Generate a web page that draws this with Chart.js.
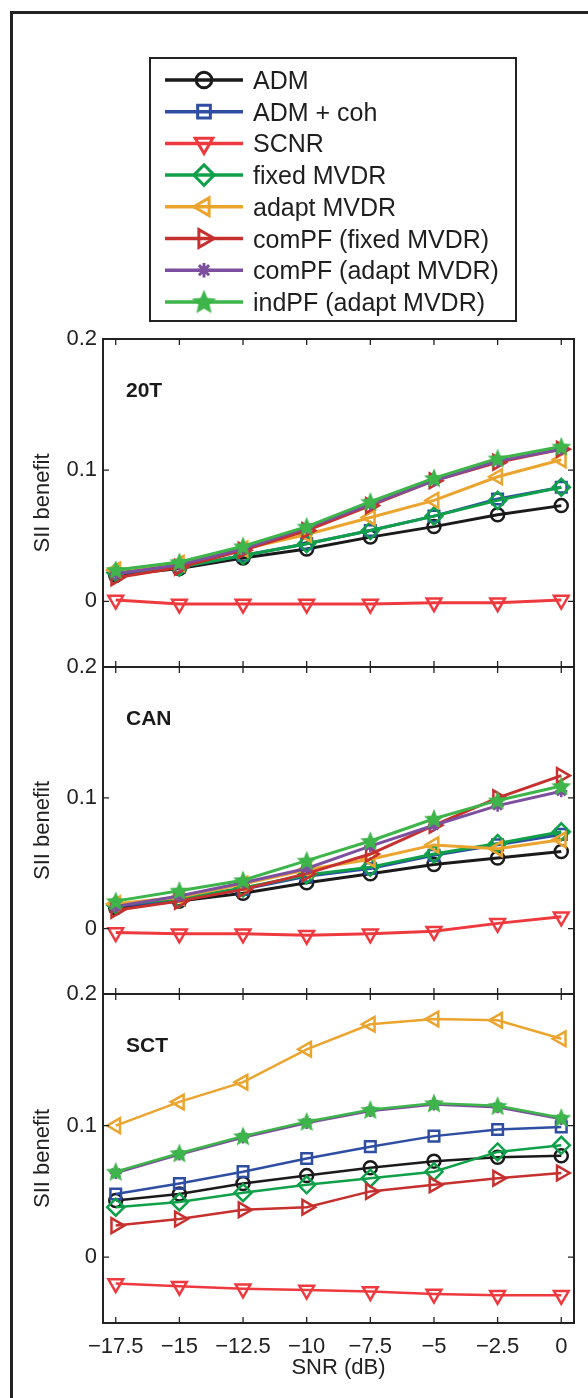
<!DOCTYPE html>
<html>
<head>
<meta charset="utf-8">
<script src="https://cdn.jsdelivr.net/npm/chart.js@4.4.1/dist/chart.umd.min.js"></script>
<style>
  body { margin: 0; background: #fff; }
  #page { position: relative; width: 588px; height: 1398px; overflow: hidden; font-family: "Liberation Sans", Arial, sans-serif; color: #222; }
  #frame { position: absolute; left: 10px; top: 11px; width: 600px; height: 1420px; border-left: 3px solid #222; border-top: 3px solid #222; }
  canvas.panel { position: absolute; left: 0; }
  #legendBox { position: absolute; left: 149px; top: 57px; width: 368px; height: 265px; box-sizing: border-box; border: 2px solid #222; background: #fff; }
  #legendCanvas { position: absolute; left: 149px; top: 57px; }
  .lg { position: absolute; left: 253px; height: 30px; line-height: 30px; font-size: 25px; white-space: nowrap; color: #1e1e1e; }
</style>
</head>
<body>
<div id="page">
  <div id="frame"></div>
  <div id="legendBox"></div>
  <canvas id="legendCanvas" width="368" height="265"></canvas>
  <canvas class="panel" id="p1" width="588" height="368" style="top:319px"></canvas>
  <canvas class="panel" id="p2" width="588" height="367" style="top:647px"></canvas>
  <canvas class="panel" id="p3" width="588" height="424" style="top:974px"></canvas>
</div>
<script>
// x axis
const snr = [-17.5, -15, -12.5, -10, -7.5, -5, -2.5, 0];
const yTicks = [0, 0.1, 0.2];

// series
const names = ['ADM', 'ADM + coh', 'SCNR', 'fixed MVDR', 'adapt MVDR',
  'comPF (fixed MVDR)', 'comPF (adapt MVDR)', 'indPF (adapt MVDR)'];

// 20T
const adm20T    = [0.020, 0.025, 0.033, 0.040, 0.049, 0.057, 0.066, 0.073];
const coh20T    = [0.021, 0.026, 0.035, 0.044, 0.054, 0.065, 0.078, 0.087];
const scnr20T   = [0.001, -0.002, -0.002, -0.002, -0.002, -0.001, -0.001, 0.001];
const fixed20T  = [0.022, 0.026, 0.035, 0.044, 0.054, 0.065, 0.077, 0.087];
const adapt20T  = [0.024, 0.029, 0.040, 0.051, 0.064, 0.077, 0.095, 0.108];
const cpfF20T   = [0.018, 0.026, 0.039, 0.054, 0.073, 0.092, 0.106, 0.116];
const cpfA20T   = [0.021, 0.028, 0.040, 0.056, 0.074, 0.092, 0.107, 0.116];
const ipf20T    = [0.024, 0.030, 0.042, 0.057, 0.076, 0.094, 0.109, 0.118];

// CAN
const admCAN    = [0.016, 0.021, 0.027, 0.035, 0.042, 0.049, 0.054, 0.059];
const cohCAN    = [0.017, 0.022, 0.030, 0.040, 0.046, 0.056, 0.064, 0.072];
const scnrCAN   = [-0.003, -0.004, -0.004, -0.005, -0.004, -0.002, 0.004, 0.009];
const fixedCAN  = [0.018, 0.023, 0.031, 0.041, 0.047, 0.057, 0.065, 0.074];
const adaptCAN  = [0.019, 0.024, 0.034, 0.045, 0.053, 0.064, 0.061, 0.068];
const cpfFCAN   = [0.014, 0.021, 0.030, 0.042, 0.057, 0.079, 0.100, 0.117];
const cpfACAN   = [0.017, 0.025, 0.035, 0.046, 0.063, 0.079, 0.094, 0.105];
const ipfCAN    = [0.021, 0.029, 0.037, 0.052, 0.067, 0.084, 0.098, 0.109];

// SCT
const admSCT    = [0.043, 0.048, 0.056, 0.062, 0.068, 0.073, 0.076, 0.077];
const cohSCT    = [0.048, 0.056, 0.065, 0.075, 0.084, 0.092, 0.097, 0.099];
const scnrSCT   = [-0.020, -0.022, -0.024, -0.025, -0.026, -0.028, -0.029, -0.029];
const fixedSCT  = [0.038, 0.042, 0.049, 0.055, 0.060, 0.065, 0.080, 0.085];
const adaptSCT  = [0.100, 0.118, 0.133, 0.158, 0.177, 0.181, 0.180, 0.166];
const cpfFSCT   = [0.024, 0.029, 0.036, 0.038, 0.050, 0.055, 0.060, 0.064];
const cpfASCT   = [0.064, 0.078, 0.091, 0.102, 0.111, 0.116, 0.114, 0.105];
const ipfSCT    = [0.065, 0.079, 0.092, 0.103, 0.112, 0.117, 0.115, 0.106];

// looks
const colors = ['#1a1a1a', '#2f4ea2', '#ee3a3f', '#10a04a', '#eba42e', '#c6302e', '#7d4f9f', '#3db54a'];
const radii = [6.5, 7.5, 8.5, 8.5, 8.5, 8.5, 6, 11];
const rotations = [0, 0, 180, 0, 270, 90, 0, 0];

// filled five point star for indPF
function makeStar(size, color) {
  const c = document.createElement('canvas');
  c.width = size; c.height = size;
  const g = c.getContext('2d');
  const cx = size / 2, cy = size / 2 + 0.8, ro = size / 2 - 0.5, ri = ro * 0.45;
  g.beginPath();
  for (let i = 0; i < 10; i++) {
    const r = i % 2 ? ri : ro;
    const a = -Math.PI / 2 + i * Math.PI / 5;
    g.lineTo(cx + r * Math.cos(a), cy + r * Math.sin(a));
  }
  g.closePath();
  g.fillStyle = color;
  g.fill();
  return c;
}
const starImg = makeStar(22, colors[7]);
const starBig = makeStar(27, colors[7]);
const styles = ['circle', 'rect', 'triangle', 'rectRot', 'triangle', 'triangle', 'star', starImg];

Chart.defaults.font.family = '"Liberation Sans", Arial, sans-serif';
Chart.defaults.font.size = 22;
Chart.defaults.color = '#222';

const boxPlugin = {
  id: 'box',
  afterDatasetsDraw(chart, args, opts) {
    const { ctx, chartArea: a, scales } = chart;
    ctx.save();
    ctx.strokeStyle = '#222';
    ctx.lineWidth = 2;
    ctx.strokeRect(a.left, a.top, a.right - a.left, a.bottom - a.top);
    ctx.lineWidth = 1.3;
    ctx.beginPath();
    snr.forEach(v => {
      const x = scales.x.getPixelForValue(v);
      ctx.moveTo(x, a.top); ctx.lineTo(x, a.top + 6);
      ctx.moveTo(x, a.bottom); ctx.lineTo(x, a.bottom - 6);
    });
    yTicks.forEach(v => {
      const y = scales.y.getPixelForValue(v);
      ctx.moveTo(a.left, y); ctx.lineTo(a.left + 6, y);
      ctx.moveTo(a.right, y); ctx.lineTo(a.right - 6, y);
    });
    ctx.stroke();
    ctx.font = 'bold 21px "Liberation Sans", Arial, sans-serif';
    ctx.fillStyle = '#1a1a1a';
    ctx.textBaseline = 'middle';
    ctx.fillText(opts.label, a.left + 23, a.top + 52);
    ctx.restore();
  }
};

function fmtX(v) {
  return v < 0 ? '\u2212' + Math.abs(v) : String(v);
}

function makePanel(id, label, series, bottom) {
  const datasets = series.map((vals, i) => ({
    label: names[i],
    data: snr.map((x, k) => ({ x: x, y: vals[k] })),
    borderColor: colors[i],
    backgroundColor: 'rgba(0,0,0,0)',
    borderWidth: bottom ? 2.5 : 3,
    pointStyle: styles[i],
    pointRadius: radii[i],
    pointRotation: rotations[i],
    pointBorderColor: colors[i],
    pointBackgroundColor: 'rgba(0,0,0,0)',
    pointBorderWidth: 2.5,
    order: 7 - i,
    tension: 0
  }));
  return new Chart(document.getElementById(id), {
    type: 'line',
    data: { datasets },
    plugins: [boxPlugin],
    options: {
      responsive: false,
      animation: false,
      events: [],
      clip: false,
      layout: { padding: { top: 20, right: 14, left: 0, bottom: bottom ? 17 : 20 } },
      plugins: { legend: { display: false }, tooltip: { enabled: false }, box: { label: label } },
      scales: {
        x: {
          type: 'linear',
          min: -18,
          max: 0.5,
          display: bottom,
          afterBuildTicks: s => { s.ticks = snr.map(v => ({ value: v })); },
          afterFit: s => { if (bottom) s.height = 58; },
          grid: { display: false, drawTicks: false },
          border: { display: false },
          ticks: { padding: 11, maxRotation: 0, autoSkip: false, callback: v => fmtX(v) },
          title: { display: true, text: 'SNR (dB)', font: { size: 22 }, padding: 0 }
        },
        y: {
          min: -0.05,
          max: 0.2,
          afterBuildTicks: s => { s.ticks = yTicks.map(v => ({ value: v })); },
          afterFit: s => { s.width = 103; },
          grid: { display: false, drawTicks: false },
          border: { display: false },
          ticks: { padding: 6, callback: v => (v === 0 ? '0' : v.toFixed(1)) },
          title: { display: true, text: 'SII benefit', font: { size: 22 }, padding: { top: 30, bottom: 0 } }
        }
      }
    }
  });
}

makePanel('p1', '20T', [adm20T, coh20T, scnr20T, fixed20T, adapt20T, cpfF20T, cpfA20T, ipf20T], false);
makePanel('p2', 'CAN', [admCAN, cohCAN, scnrCAN, fixedCAN, adaptCAN, cpfFCAN, cpfACAN, ipfCAN], false);
makePanel('p3', 'SCT', [admSCT, cohSCT, scnrSCT, fixedSCT, adaptSCT, cpfFSCT, cpfASCT, ipfSCT], true);

// legend
(function drawLegend() {
  const page = document.getElementById('page');
  const g = document.getElementById('legendCanvas').getContext('2d');
  names.forEach((name, i) => {
    const cy = 23 + i * 31.7;
    g.strokeStyle = colors[i];
    g.fillStyle = 'rgba(0,0,0,0)';
    g.lineWidth = 3.5;
    g.beginPath();
    g.moveTo(16, cy); g.lineTo(94, cy);
    g.stroke();
    g.lineWidth = 3;
    if (Chart.helpers && Chart.helpers.drawPoint) {
      Chart.helpers.drawPoint(g, {
        pointStyle: i === 7 ? starBig : styles[i],
        radius: radii[i] * 1.2,
        rotation: rotations[i],
        borderWidth: 3
      }, 55, cy);
    }
    const t = document.createElement('div');
    t.className = 'lg';
    t.textContent = name;
    t.style.top = (57 + cy - 15) + 'px';
    page.appendChild(t);
  });
})();
</script>
</body>
</html>
